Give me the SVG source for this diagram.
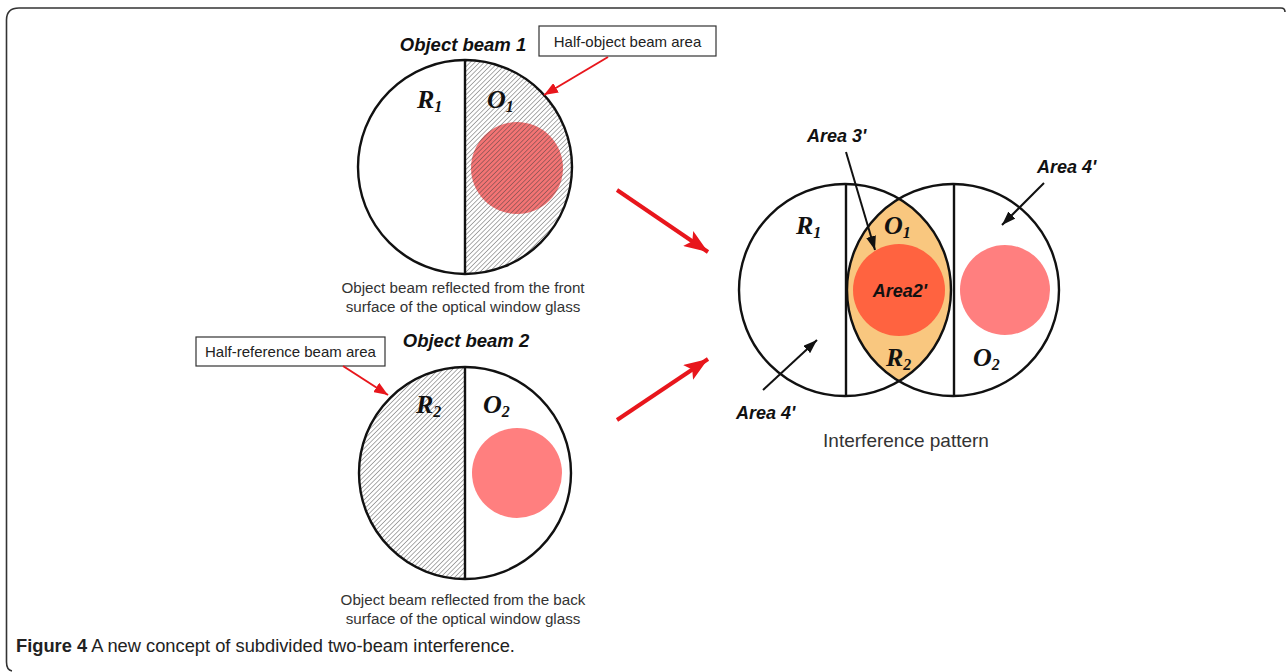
<svg xmlns="http://www.w3.org/2000/svg" width="1287" height="672" viewBox="0 0 1287 672">
<style>
.ol{fill:none;stroke:#111;stroke-width:2.4}
.sym{font-family:"Liberation Serif",serif;font-weight:bold;font-style:italic;font-size:26px;fill:#111}
.sub{font-size:16px}
.bi{font-family:"Liberation Sans",Arial,sans-serif;font-weight:bold;font-style:italic;fill:#111}
.cap{font-family:"Liberation Sans",Arial,sans-serif;font-size:15.2px;fill:#333;text-anchor:middle}
.box{fill:#fff;stroke:#333;stroke-width:1.2}
.boxt{font-family:"Liberation Sans",Arial,sans-serif;font-size:15px;fill:#222}
.ra{stroke:#e8161c;fill:none}
.ba{stroke:#111;stroke-width:2;fill:none;marker-end:url(#mb)}
</style>
<defs>
<pattern id="hatch" patternUnits="userSpaceOnUse" width="3.3" height="10" patternTransform="rotate(45)">
<line x1="0" y1="-1" x2="0" y2="11" stroke="#3a3a3a" stroke-width="0.85"/>
</pattern>
<marker id="mrBig" markerUnits="userSpaceOnUse" markerWidth="24" markerHeight="18" refX="24" refY="9" orient="auto">
<path d="M0,0 L24,9 L0,18 L5,9 z" fill="#e8161c"/>
</marker>
<marker id="mrS" markerUnits="userSpaceOnUse" markerWidth="14" markerHeight="11" refX="14" refY="5.5" orient="auto">
<path d="M0,0 L14,5.5 L0,11 z" fill="#e8161c"/>
</marker>
<marker id="mb" markerUnits="userSpaceOnUse" markerWidth="14" markerHeight="10" refX="14" refY="5" orient="auto">
<path d="M0,0 L14,5 L0,10 z" fill="#111"/>
</marker>
</defs>
<rect width="1287" height="672" fill="#fff"/>
<path d="M6.5,662 L6.5,20 Q6.5,8 19,8 L1281,8 Q1285,8 1285,12 M6.5,662 Q6.5,670 12,671" fill="none" stroke="#333" stroke-width="1.6"/>

<g id="beam1">
<circle cx="465" cy="167" r="107" fill="#fff"/>
<circle cx="517" cy="168" r="46" fill="#f47474"/>
<path d="M465,60 A107,107 0 0 1 465,274 Z" fill="url(#hatch)"/>
<circle cx="465" cy="167" r="107" class="ol"/>
<line x1="465" y1="60" x2="465" y2="274" class="ol"/>
<text class="bi" x="463" y="51" font-size="18.5" text-anchor="middle">Object beam 1</text>
<text class="sym" x="417" y="108">R<tspan class="sub" dy="4">1</tspan></text>
<text class="sym" x="487" y="108">O<tspan class="sub" dy="4">1</tspan></text>
<text class="cap" x="463" y="293">Object beam reflected from the front</text>
<text class="cap" x="463" y="312">surface of the optical window glass</text>
</g>

<g id="box1">
<rect class="box" x="539" y="26" width="177" height="30"/>
<text class="boxt" x="627.5" y="46.5" text-anchor="middle">Half-object beam area</text>
</g>

<g id="beam2">
<circle cx="465" cy="473" r="106" fill="#fff"/>
<path d="M465,367 A106,106 0 0 0 465,579 Z" fill="url(#hatch)"/>
<circle cx="517" cy="473" r="45" fill="#ff7f7f"/>
<circle cx="465" cy="473" r="106" class="ol"/>
<line x1="465" y1="367" x2="465" y2="579" class="ol"/>
<text class="bi" x="466" y="347" font-size="18.5" text-anchor="middle">Object beam 2</text>
<text class="sym" x="416" y="413">R<tspan class="sub" dy="4">2</tspan></text>
<text class="sym" x="483" y="413">O<tspan class="sub" dy="4">2</tspan></text>
<text class="cap" x="463" y="605">Object beam reflected from the back</text>
<text class="cap" x="463" y="624">surface of the optical window glass</text>
</g>

<g id="box2">
<rect class="box" x="196" y="337" width="189" height="29"/>
<text class="boxt" x="290.5" y="356.5" text-anchor="middle">Half-reference beam area</text>
</g>

<g id="interference">
<path d="M899,198.8 A106,106 0 0 1 899,381.2 A106,106 0 0 1 899,198.8 Z" fill="#f9c77f"/>
<circle cx="899" cy="290" r="46" fill="#ff6340"/>
<circle cx="1005" cy="290" r="45" fill="#ff7f7f"/>
<circle cx="845" cy="290" r="106" class="ol"/>
<circle cx="953" cy="290" r="106" class="ol"/>
<line x1="846" y1="184" x2="846" y2="396" class="ol"/>
<line x1="954" y1="184" x2="954" y2="396" class="ol"/>
<text class="sym" x="796" y="234">R<tspan class="sub" dy="4">1</tspan></text>
<text class="sym" x="884" y="234">O<tspan class="sub" dy="4">1</tspan></text>
<text class="sym" x="886" y="366">R<tspan class="sub" dy="4">2</tspan></text>
<text class="sym" x="973" y="366">O<tspan class="sub" dy="4">2</tspan></text>
<text class="bi" x="900" y="297" font-size="18" text-anchor="middle">Area2'</text>
<text class="bi" x="807" y="142" font-size="18">Area 3'</text>
<text class="bi" x="1037" y="173" font-size="18">Area 4'</text>
<text class="bi" x="736" y="419" font-size="18">Area 4'</text>
<text x="906" y="447" font-family="Liberation Sans, Arial, sans-serif" font-size="19" fill="#333" text-anchor="middle">Interference pattern</text>
</g>

<g id="connectors">
<line class="ra" x1="608" y1="57" x2="544" y2="95" stroke-width="2" marker-end="url(#mrS)"/>
<line class="ra" x1="343" y1="366" x2="388" y2="395" stroke-width="2" marker-end="url(#mrS)"/>
<line class="ra" x1="617" y1="190" x2="708" y2="252" stroke-width="4" marker-end="url(#mrBig)"/>
<line class="ra" x1="617" y1="420" x2="708" y2="359" stroke-width="4" marker-end="url(#mrBig)"/>
<line class="ba" x1="846" y1="152" x2="875" y2="250"/>
<line class="ba" x1="1044" y1="183" x2="1002" y2="225"/>
<line class="ba" x1="763" y1="390" x2="817" y2="340"/>
</g>

<g id="caption">
<text x="16" y="652" font-family="Liberation Sans, Arial, sans-serif" font-size="18.3" fill="#222"><tspan font-weight="bold">Figure 4</tspan> A new concept of subdivided two-beam interference.</text>
</g>
</svg>
